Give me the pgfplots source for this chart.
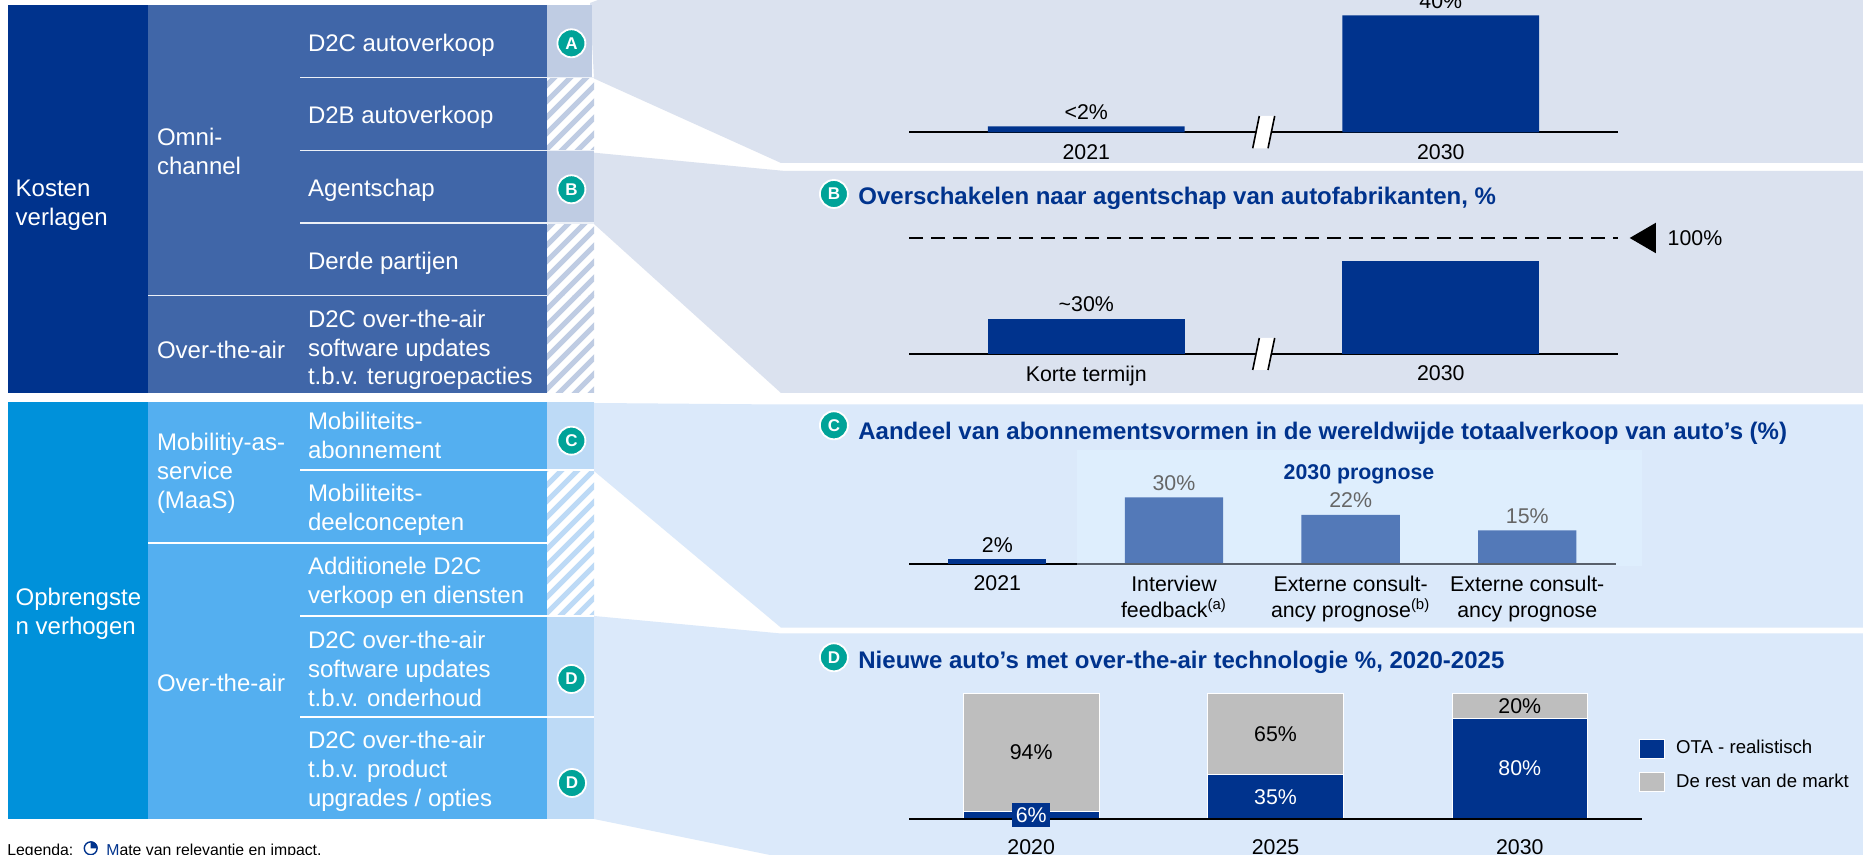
\documentclass[border=0pt]{standalone}
\usepackage{pgfplots}
\pgfplotsset{compat=1.18}
\usepackage{fontspec}
\setmainfont{Liberation Sans}
\definecolor{navy}{HTML}{00338D}
\definecolor{midA}{HTML}{4066A8}
\definecolor{sideA}{HTML}{BFCCE3}
\definecolor{panA}{HTML}{DBE2EF}
\definecolor{darkB}{HTML}{0091DA}
\definecolor{midB}{HTML}{54AFF0}
\definecolor{sideB}{HTML}{BDDAF6}
\definecolor{panB}{HTML}{DBE9FA}
\definecolor{panC}{HTML}{DEEEFD}
\definecolor{tealc}{HTML}{00A398}
\definecolor{barC}{HTML}{5379B8}
\definecolor{lineC}{HTML}{59606B}
\definecolor{lblg}{HTML}{666666}
\definecolor{restg}{HTML}{BEBEBE}
\newcommand\fa{\fontsize{12}{14.4}\selectfont}
\newcommand\fb{\fontsize{10.67}{12.9}\selectfont}
\newcommand\fl{\fontsize{9.3}{11}\selectfont}
\newcommand\ft{\fontsize{12}{14.5}\selectfont\bfseries}
\newcommand\hatch[3]{\begin{scope}
  \clip (547,#1) rectangle (594,#2);
  \foreach \s in {-480,-464,...,600} \draw[#3,line width=2.5pt] (\s,1000) -- ({\s+1000},0);
\end{scope}}
\tikzset{
  bad/.style={circle,fill=tealc,draw=white,line width=0.9pt,minimum size=14pt,inner sep=0pt,text=white,font=\fontsize{8.5}{9}\selectfont\bfseries},
  w/.style={anchor=west,align=left,text=white,font=\fa,inner sep=0pt},
  sep/.style={line width=0.75pt,#1},
}
\pgfplotsset{
  panel/.style={
    scale only axis, clip=false, axis y line=none, axis x line*=bottom,
    x axis line style={-,black,line width=1pt},
    ymin=0, major tick length=0pt, xtick style={draw=none},
    ybar, bar shift=0pt,
    xticklabel style={font=\fb,align=center,text=black,anchor=north,yshift=-2.6pt},
    every node near coord/.append style={font=\fb,text=black},
    point meta=explicit symbolic
  }
}
\begin{document}
\begin{tikzpicture}
\useasboundingbox (0,0) rectangle (931.5pt,427.5pt);
\clip (0,0) rectangle (931.5pt,427.5pt);
\fill[white] (0,0) rectangle (931.5pt,427.5pt);
\begin{scope}[x=0.5pt,y=-0.5pt,shift={(0pt,427.5pt)}]
% connector panels
\fill[panA] (590,3) -- (598,0) -- (1863,0) -- (1863,163) -- (781,163) -- (594,78.5) -- cycle;
\fill[panA] (594,152.7) -- (785,171) -- (1863,171) -- (1863,393) -- (781,393) -- (594,224) -- cycle;
\fill[panB] (594,403) -- (781,404.5) -- (1863,404.5) -- (1863,627.7) -- (781,627.7) -- (594,471) -- cycle;
\fill[panB] (594,616) -- (781,633.5) -- (1863,633.5) -- (1863,855) -- (770,855) -- (594,819) -- cycle;
\fill[panC] (1077,450) rectangle (1642,565.7);
% table, top block
\fill[navy] (8,5) rectangle (148,393);
\fill[midA] (148,5) rectangle (547,393);
\fill[sideA] (547,5) rectangle (592,77.7);
\fill[sideA] (547,150.7) rectangle (594,223);
\hatch{78}{150}{sideA}
\hatch{223.5}{295.5}{sideA}
\hatch{296}{393}{sideA}
\draw[sep=sideA!30!white] (300,77.7) -- (594,77.7);
\draw[sep=sideA!30!white] (300,150.7) -- (594,150.7);
\draw[sep=sideA!30!white] (300,223) -- (594,223);
\draw[sep=sideA!30!white] (148,295.7) -- (547,295.7);
% table, lower block
\fill[darkB] (8,401.7) rectangle (148,819);
\fill[midB] (148,401.7) rectangle (547,819);
\fill[sideB] (547,401.7) rectangle (594,470);
\fill[sideB] (547,616) rectangle (594,819);
\hatch{470.5}{543}{sideB}
\hatch{543.5}{616}{sideB}
\draw[sep=white] (300,470) -- (594,470);
\draw[sep=white] (148,543) -- (547,543);
\draw[sep=white] (300,616) -- (594,616);
\draw[sep=white] (300,717) -- (594,717);
% table text
\node[w] at (15.3,205) {Kosten\\verlagen};
\node[w] at (156.6,151.6) {Omni-\\channel};
\node[w] at (156.6,349.5) {Over-the-air};
\node[w] at (307.6,45.8) {D2C autoverkoop};
\node[w] at (307.6,117.8) {D2B autoverkoop};
\node[w] at (307.6,190.8) {Agentschap};
\node[w] at (307.6,263.5) {Derde partijen};
\node[w] at (307.6,350) {D2C over-the-air\\software updates\\t.b.v. terugroepacties};
\node[w] at (15.3,613.5) {Opbrengste\\n verhogen};
\node[w] at (156.6,473.5) {Mobilitiy-as-\\service\\(MaaS)};
\node[w] at (307.6,435.8) {Mobiliteits-\\abonnement};
\node[w] at (307.6,509.5) {Mobiliteits-\\deelconcepten};
\node[w] at (156.6,683.2) {Over-the-air};
\node[w] at (307.6,583) {Additionele D2C\\verkoop en diensten};
\node[w] at (307.6,669) {D2C over-the-air\\software updates\\t.b.v. onderhoud};
\node[w] at (307.6,771.5) {D2C over-the-air\\t.b.v. product\\upgrades / opties};
% badges
\node[bad] at (571.4,43.3) {A};
\node[bad] at (571.4,189.3) {B};
\node[bad] at (571.4,440.7) {C};
\node[bad] at (571.4,679) {D};
\node[bad] at (572,783) {D};
\node[bad] at (833.9,194) {B};
\node[bad] at (833.9,425.3) {C};
\node[bad] at (833.9,657.3) {D};
% panel titles
\node[anchor=base west,inner sep=0pt,text=navy,font=\ft] at (858,204.5) {Overschakelen naar agentschap van autofabrikanten, \%};
\node[anchor=base west,inner sep=0pt,text=navy,font=\ft] at (858,439.5) {Aandeel van abonnementsvormen in de wereldwijde totaalverkoop van auto’s (\%)};
\node[anchor=base west,inner sep=0pt,text=navy,font=\ft] at (858,668.5) {Nieuwe auto’s met over-the-air technologie \%, 2020-2025};
\node[text=navy,font=\fontsize{10.67}{12}\selectfont\bfseries,inner sep=0pt] at (1359,474) {2030 prognose};
% footer
\node[anchor=base west,inner sep=0pt,font=\fontsize{7.9}{9}\selectfont] at (7,856) {Legenda:};
\node[anchor=base west,inner sep=0pt,font=\fontsize{7.9}{9}\selectfont] at (106,856) {\textcolor{navy}{M}ate van relevantie en impact.};
\end{scope}
\fill[white] (45.35pt,3.35pt) circle[radius=3.3pt];
\draw[navy,line width=0.7pt] (45.35pt,3.35pt) circle[radius=3.2pt];
\fill[navy] (45.35pt,3.35pt) -- +(0,3.5pt) arc[start angle=90,end angle=0,radius=3.5pt] -- cycle;

% Panel A
\begin{axis}[panel,at={(454.5pt,361.35pt)},width=354.5pt,height=58.5pt,
  xmin=-0.5,xmax=1.5,ymax=40,xtick={0,1},xticklabels={2021,2030},bar width=98.4pt,
  nodes near coords]
\addplot[fill=navy,draw=none] coordinates {(0,2)[<2\%] (1,40)[40\%]};
\end{axis}
% Panel B
\begin{axis}[panel,at={(454.5pt,250.65pt)},width=354.5pt,height=57.85pt,
  xmin=-0.5,xmax=1.5,ymax=100,xtick={0,1},xticklabels={Korte termijn,2030},bar width=98.4pt]
\addplot[fill=navy,draw=none,nodes near coords] coordinates {(0,30)[\textasciitilde 30\%]};
\addplot[fill=navy,draw=none] coordinates {(1,80)[]};
\end{axis}
\begin{axis}[scale only axis,clip=false,hide axis,at={(454.5pt,250.65pt)},width=354.5pt,height=57.85pt,
  xmin=-0.5,xmax=1.5,ymin=0,ymax=100]
\addplot[black,line width=1pt,dash pattern=on 7pt off 4pt] coordinates {(-0.5,100) (1.5,100)};
\addplot[fill=black,draw=none] coordinates {(1.533,100) (1.607,113.2) (1.607,86.8)} -- cycle;
\node[anchor=west,font=\fb,inner sep=0pt] at (axis cs:1.639,100) {100\%};
\end{axis}
% Panel C
\begin{axis}[panel,at={(454.5pt,145.65pt)},width=353.3pt,height=33.2pt,
  xmin=-0.5,xmax=3.5,ymax=30,xtick={0,1,2,3},bar width=49.15pt,
  xticklabels={2021,{Interview\\feedback\textsuperscript{(a)}},{Externe consult-\\ancy prognose\textsuperscript{(b)}},{Externe consult-\\ancy prognose}},
  nodes near coords]
\addplot[fill=navy,draw=none] coordinates {(0,2)[2\%]};
\addplot[fill=barC,draw=none] coordinates {(1,30)[\textcolor{lblg}{30\%}] (2,22)[\textcolor{lblg}{22\%}] (3,15)[\textcolor{lblg}{15\%}]};
\addplot[lineC,line width=1pt,sharp plot,no marks] coordinates {(0.4516,0)[] (3.5,0)[]};
\end{axis}
% Panel D
\begin{axis}[panel,at={(454.5pt,18.15pt)},width=366.5pt,height=62.65pt,
  ybar stacked,bar shift=0pt,
  xmin=-0.5,xmax=2.5,ymax=100,xtick={0,1,2},xticklabels={2020,2025,2030},bar width=67.8pt,
  xticklabel style={yshift=-4.4pt},axis on top,
  legend style={at={(0.996,0.66)},anchor=north west,draw=none,fill=none,font=\fl,inner sep=0pt,row sep=4.5pt},
  legend cell align=left,
  legend image code/.code={\draw[#1] (0pt,-4.75pt) rectangle (12.5pt,4.75pt);\path (16pt,0pt);}]
\addplot[fill=navy,draw=white,line width=0.35pt] coordinates {(0,6)[] (1,35)[] (2,80)[]};
\addplot[fill=restg,draw=white,line width=0.35pt] coordinates {(0,94)[] (1,65)[] (2,20)[]};
\addlegendentry{OTA - realistisch}
\addlegendentry{De rest van de markt}
\coordinate (l94) at (axis cs:0,53);
\coordinate (l65) at (axis cs:1,67.5);
\coordinate (l20) at (axis cs:2,90);
\coordinate (l35) at (axis cs:1,17.5);
\coordinate (l80) at (axis cs:2,40);
\coordinate (six) at (axis cs:0,3);
\end{axis}
\node[font=\fb,text=black] at (l94) {94\%};
\node[font=\fb,text=black] at (l65) {65\%};
\node[font=\fb,text=black] at (l20) {20\%};
\node[font=\fb,text=white] at (l35) {35\%};
\node[font=\fb,text=white] at (l80) {80\%};
\node[fill=navy,text=white,font=\fb,minimum width=18.7pt,minimum height=12pt,inner sep=0pt] at (six) {6\%};
% axis breaks
\begin{scope}[x=0.5pt,y=-0.5pt,shift={(0pt,427.5pt)}]
\fill[white] (1259.3,116) -- (1274.7,116) -- (1268,148.3) -- (1252.7,148.3) -- cycle;
\draw[black,line width=0.8pt] (1259.3,116) -- (1252.7,148.3) (1274.7,116) -- (1268,148.3);
\fill[white] (1259.3,338) -- (1274.7,338) -- (1268,370) -- (1252.7,370) -- cycle;
\draw[black,line width=0.8pt] (1259.3,338) -- (1252.7,370) (1274.7,338) -- (1268,370);
\end{scope}
\end{tikzpicture}
\end{document}
